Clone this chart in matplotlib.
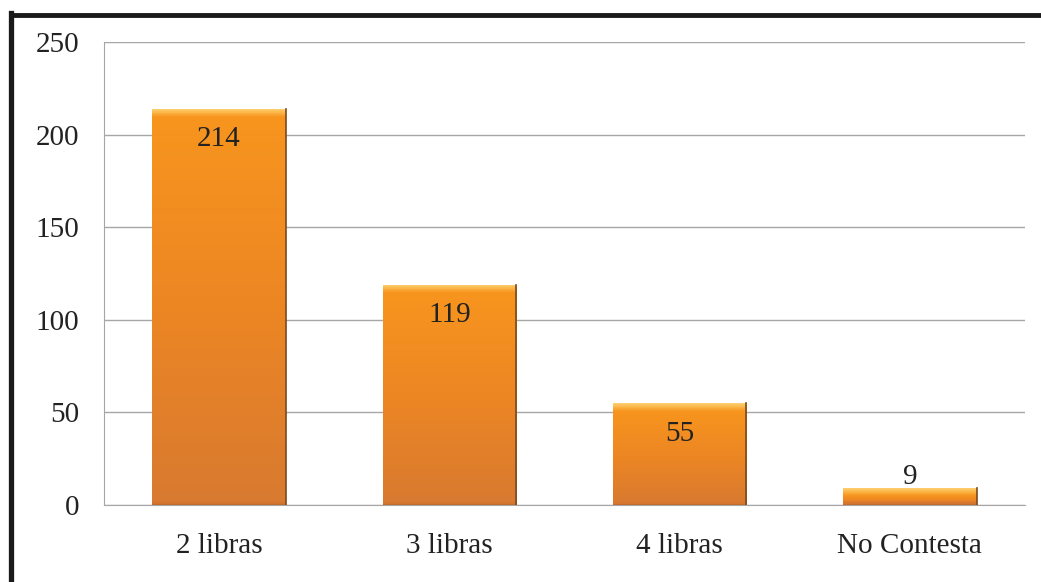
import matplotlib.pyplot as plt
import numpy as np
from matplotlib.colors import LinearSegmentedColormap
from matplotlib.lines import Line2D

# === Data ===
categories = ["2 libras", "3 libras", "4 libras", "No Contesta"]
values = [214, 119, 55, 9]
y_ticks = [0, 50, 100, 150, 200, 250]

plt.rcParams['font.family'] = ['Liberation Serif', 'DejaVu Serif']

fig = plt.figure(figsize=(10.41, 5.82), dpi=100)
ax = fig.add_axes([0.0999, 0.1323, 0.8847, 0.7955])
ax.set_xlim(-0.5, len(categories) - 0.5)
ax.set_ylim(0, 250)

axes_px = 0.7955 * 582  # axes height in pixels


def bar_cmap(h):
    # fixed ~8px light bevel at top, darker towards the bottom
    px = h / 250 * axes_px
    f = min(8.0 / px, 0.45)
    e = min(3.0 / px, 0.2)
    return LinearSegmentedColormap.from_list(
        "bar", [(0.0, "#D2702B"), (e, "#D87A30"), (0.5 * (1 - f), "#EC8624"),
                (1 - f, "#F7951E"), (1 - f * 0.5, "#FBB445"), (1.0, "#FDD173")])


x = np.arange(len(categories))
bar_w = 0.58
bars = ax.bar(x, values, width=bar_w, color="none", edgecolor="none", zorder=3)
for b in bars:
    x0, w, h = b.get_x(), b.get_width(), b.get_height()
    img = np.linspace(0, 1, 512).reshape(-1, 1)
    im = ax.imshow(img, cmap=bar_cmap(h), origin="lower", aspect="auto",
                   extent=[x0, x0 + w, 0, h], zorder=3)
    im.set_clip_path(b)
    # darker right edge / shadow
    ax.plot([x0 + w, x0 + w], [0, h], color="#7A4A1E", lw=1.2, zorder=4)
    ax.plot([x0, x0 + w], [0, 0], color="#8A5A30", lw=1.0, zorder=4)

# value labels
for xi, v in zip(x, values):
    dy = -22 if v > 30 else 8.5
    ax.annotate(str(v), (xi, v), xytext=(0, dy), textcoords="offset points",
                ha="center", va="center", fontsize=21, color="#222222", zorder=5)

ax.set_yticks(y_ticks)
ax.set_xticks(x)
ax.set_xticklabels(categories)
ax.tick_params(axis="both", length=0, labelsize=21, colors="#222222")
ax.tick_params(axis="y", pad=18)
ax.tick_params(axis="x", pad=20)
ax.grid(axis="y", color="#A6A6A6", lw=1.0, zorder=1)
ax.set_axisbelow(True)
for s in ["top", "right"]:
    ax.spines[s].set_visible(False)
ax.spines["left"].set_color("#A6A6A6")
ax.spines["bottom"].set_color("#A6A6A6")

# thick black frame (top and left)
fig.add_artist(Line2D([10.5 / 1041, 1.0], [1 - 14.5 / 582, 1 - 14.5 / 582],
                      transform=fig.transFigure, color="#1A1A1A", lw=3.5))
fig.add_artist(Line2D([10.5 / 1041, 10.5 / 1041], [0.0, 1 - 12.5 / 582],
                      transform=fig.transFigure, color="#1A1A1A", lw=3.8))

fig.savefig("out.png", dpi=100)
